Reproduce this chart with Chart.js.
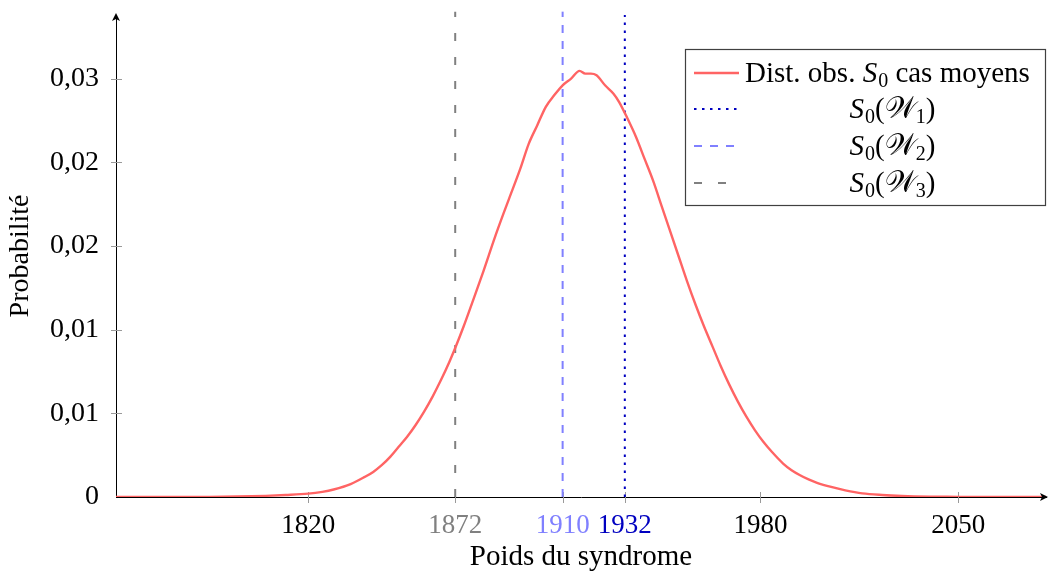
<!DOCTYPE html>
<html lang="fr">
<head>
<meta charset="utf-8">
<title>Distribution du poids du syndrome</title>
<script src="https://cdn.jsdelivr.net/npm/chart.js@4.4.1/dist/chart.umd.min.js"></script>
<style>
  html, body { margin: 0; padding: 0; background: #fff; }
  #wrap { width: 1048px; height: 579px; }
</style>
</head>
<body>
<div id="wrap"><canvas id="chart"></canvas></div>
<script>
/* ---- Données ---- */
const X_VALUES = [1752, 1770, 1785, 1795, 1805, 1812, 1820, 1825, 1829, 1835, 1840, 1843, 1846, 1849,
  1852, 1855, 1858, 1861, 1864, 1867, 1870, 1872, 1875, 1878, 1882, 1886, 1889, 1891, 1895, 1898,
  1901, 1904, 1907, 1910, 1913, 1916, 1918, 1920, 1922, 1925, 1928, 1930, 1933, 1936, 1939, 1942,
  1945, 1948, 1951, 1954, 1957, 1960, 1963, 1966, 1969, 1972, 1975, 1978, 1981, 1984, 1988, 1991,
  1994, 1997, 2000, 2005, 2010, 2016, 2023, 2030, 2040, 2050, 2060, 2081];
const Y_VALUES = [0, 0, 0.00001, 0.00003, 0.00007, 0.00012, 0.0002, 0.00031, 0.00045, 0.00077, 0.0012, 0.0015, 0.0019, 0.0024,
  0.003, 0.0036, 0.0043, 0.0051, 0.006, 0.007, 0.0081, 0.0089, 0.0102, 0.0116, 0.0135, 0.0155, 0.0169, 0.0178, 0.0196, 0.0211,
  0.0222, 0.0233, 0.024, 0.0246, 0.025, 0.02546, 0.0253, 0.0253, 0.0252, 0.0246, 0.0241, 0.0236, 0.0226, 0.0215, 0.0202, 0.0189,
  0.0174, 0.0159, 0.0144, 0.0129, 0.0115, 0.0102, 0.009, 0.0078, 0.0067, 0.0057, 0.0048, 0.004, 0.0033, 0.0027, 0.002, 0.0016,
  0.0013, 0.00105, 0.00085, 0.0006, 0.0004, 0.00022, 0.00012, 0.00006, 0.00002, 0.00001, 0, 0];

// seuils S0(W1), S0(W2), S0(W3) et hauteur de leurs traits verticaux
const MARKERS = [1932, 1910, 1872];
const MARKER_TOPS = [0.0288, 0.029, 0.029];

const X_TICKS = [1820, 1872, 1910, 1932, 1980, 2050];
const Y_TICKS = [0, 0.005, 0.01, 0.015, 0.02, 0.025];
const Y_TICK_LABELS = ['0', '0,01', '0,01', '0,02', '0,02', '0,03'];
const X_MIN = 1752, X_MAX = 2081, Y_MAX = 0.0288;

/* ---- Styles ---- */
const RED = '#ff6464';
const MARKER_COLORS = ['#0000c0', '#8080ff', '#808080'];
const MARKER_DASH = [[2.5, 5.5], [8, 8], [8, 16]];
const SERIF = "'Liberation Serif', 'Times New Roman', serif";
const SCRIPT_W = '\u{1D4B2}';

const TICK_COLOR = {};
MARKERS.forEach((m, i) => TICK_COLOR[m] = MARKER_COLORS[i]);

const datasets = [{
  data: X_VALUES.map((x, i) => ({ x: x, y: Y_VALUES[i] })),
  borderColor: RED,
  borderWidth: 2.4,
  pointRadius: 0,
  cubicInterpolationMode: 'monotone',
  fill: false
}];
MARKERS.forEach((m, i) => {
  datasets.push({
    data: [{ x: m, y: 0 }, { x: m, y: MARKER_TOPS[i] }],
    borderColor: MARKER_COLORS[i],
    borderWidth: 2,
    borderDash: MARKER_DASH[i],
    pointRadius: 0,
    clip: false
  });
});

// légende : morceaux de texte (n = normal, i = italique, s = indice, w = lettre calligraphique)
const LEGEND_ROWS = [
  [['Dist. obs. ', 'n'], ['S', 'i'], ['0', 's'], [' cas moyens', 'n']],
  [['S', 'i'], ['0', 's'], ['(', 'n'], [SCRIPT_W, 'w'], ['1', 's'], [')', 'n']],
  [['S', 'i'], ['0', 's'], ['(', 'n'], [SCRIPT_W, 'w'], ['2', 's'], [')', 'n']],
  [['S', 'i'], ['0', 's'], ['(', 'n'], [SCRIPT_W, 'w'], ['3', 's'], [')', 'n']]
];

function segFont(kind) {
  if (kind === 'i') return 'italic 29px ' + SERIF;
  if (kind === 's') return '20px ' + SERIF;
  if (kind === 'w') return "30px 'DejaVu Serif', 'DejaVu Sans', " + SERIF;
  return '29px ' + SERIF;
}

const axisDecor = {
  id: 'axisDecor',
  beforeDatasetsDraw(chart) {
    const { ctx, chartArea: a, scales: { x, y } } = chart;
    ctx.save();
    ctx.strokeStyle = '#9a9a9a';
    ctx.lineWidth = 1;
    ctx.beginPath();
    X_TICKS.forEach(v => {
      const px = Math.round(x.getPixelForValue(v)) + 0.5;
      ctx.moveTo(px, a.bottom - 5); ctx.lineTo(px, a.bottom + 6);
    });
    Y_TICKS.forEach(v => {
      if (v === 0) return;
      const py = Math.round(y.getPixelForValue(v)) + 0.5;
      ctx.moveTo(a.left - 5, py); ctx.lineTo(a.left + 6, py);
    });
    ctx.stroke();
    ctx.restore();
  },
  afterDraw(chart) {
    const { ctx, chartArea: a } = chart;
    ctx.save();
    ctx.fillStyle = '#000';
    // flèche verticale
    ctx.beginPath();
    ctx.moveTo(a.left, a.top - 2);
    ctx.lineTo(a.left - 4, a.top + 6);
    ctx.lineTo(a.left, a.top + 4);
    ctx.lineTo(a.left + 4, a.top + 6);
    ctx.closePath();
    ctx.fill();
    // flèche horizontale
    ctx.beginPath();
    ctx.moveTo(a.right + 2, a.bottom);
    ctx.lineTo(a.right - 6, a.bottom - 4);
    ctx.lineTo(a.right - 4, a.bottom);
    ctx.lineTo(a.right - 6, a.bottom + 4);
    ctx.closePath();
    ctx.fill();
    ctx.restore();
  }
};

const boxLegend = {
  id: 'boxLegend',
  afterDraw(chart) {
    const { ctx, chartArea: a } = chart;
    const w = 361, h = 157;
    const left = a.right - w, top = a.top + 34;
    ctx.save();
    ctx.fillStyle = '#fff';
    ctx.fillRect(left, top, w, h);
    ctx.strokeStyle = '#404040';
    ctx.lineWidth = 1.2;
    ctx.strokeRect(left + 0.5, top + 0.5, w - 1, h - 1);

    const rowY = [24, 60, 97, 134];
    const sampleEnd = [54, 53, 50, 42];
    LEGEND_ROWS.forEach((row, i) => {
      const ds = chart.data.datasets[i];
      const ly = top + rowY[i];
      ctx.strokeStyle = ds.borderColor;
      ctx.lineWidth = ds.borderWidth;
      ctx.setLineDash(ds.borderDash || []);
      ctx.beginPath();
      ctx.moveTo(left + 9, ly);
      ctx.lineTo(left + sampleEnd[i], ly);
      ctx.stroke();
      ctx.setLineDash([]);

      // largeur du texte pour le centrage
      let total = 0;
      row.forEach(([t, k]) => { ctx.font = segFont(k); total += ctx.measureText(t).width; });
      let tx = i === 0 ? left + 60 : left + 207 - total / 2;
      const base = ly + 9;
      ctx.fillStyle = '#000';
      ctx.textBaseline = 'alphabetic';
      row.forEach(([t, k]) => {
        ctx.font = segFont(k);
        ctx.fillText(t, tx, k === 's' ? base + 5 : base);
        tx += ctx.measureText(t).width + (k === 'i' && t === 'S' ? 1 : 0);
      });
    });
    ctx.restore();
  }
};

new Chart(document.getElementById('chart'), {
  type: 'line',
  data: { datasets: datasets },
  options: {
    responsive: true,
    maintainAspectRatio: false,
    animation: false,
    layout: { padding: { top: 15, right: 2, left: 0, bottom: 0 } },
    plugins: { legend: { display: false }, tooltip: { enabled: false } },
    scales: {
      x: {
        type: 'linear',
        min: X_MIN, max: X_MAX,
        afterBuildTicks: s => { s.ticks = X_TICKS.map(v => ({ value: v })); },
        afterFit: s => { s.height = 82; s.paddingRight = 0; s.paddingLeft = 0; },
        grid: { display: false },
        border: { display: true, color: '#000', width: 1 },
        ticks: {
          autoSkip: false, maxRotation: 0, padding: 5,
          font: { family: SERIF, size: 27 },
          color: c => TICK_COLOR[c.tick.value] || '#000',
          callback: v => String(v)
        },
        title: {
          display: true, text: 'Poids du syndrome', color: '#000',
          font: { family: SERIF, size: 29 }, padding: { top: 0, bottom: 4 }
        }
      },
      y: {
        type: 'linear',
        min: 0, max: Y_MAX,
        afterBuildTicks: s => { s.ticks = Y_TICKS.map(v => ({ value: v })); },
        afterFit: s => { s.width = 116; s.paddingTop = 0; s.paddingBottom = 0; },
        grid: { display: false },
        border: { display: true, color: '#000', width: 1 },
        ticks: {
          padding: 9, color: '#000',
          font: { family: SERIF, size: 28 },
          callback: (v, i) => Y_TICK_LABELS[i]
        },
        title: {
          display: true, text: 'Probabilité', color: '#000',
          font: { family: SERIF, size: 28 }, padding: { top: 4, bottom: 0 }
        }
      }
    }
  },
  plugins: [axisDecor, boxLegend]
});
</script>
</body>
</html>
